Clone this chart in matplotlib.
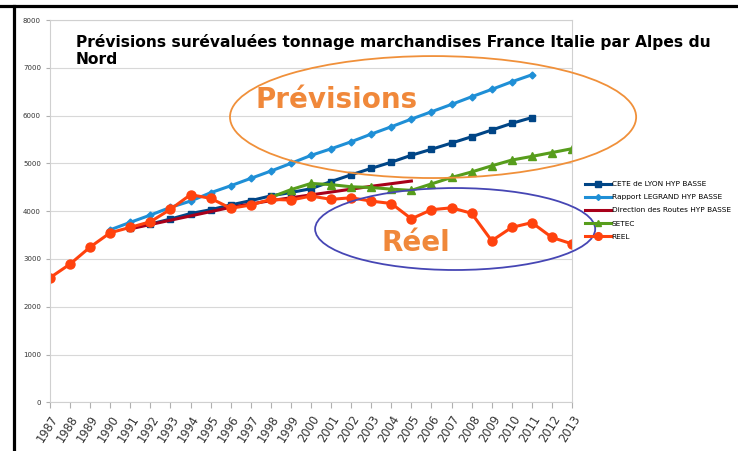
import matplotlib
matplotlib.use("Agg")
import matplotlib.pyplot as plt
from matplotlib.patches import Ellipse
from matplotlib.lines import Line2D

# données
cete_years = list(range(1991, 2012))
cete = [3650, 3730, 3835, 3950, 4030, 4130, 4220, 4320, 4390, 4470, 4620,
        4760, 4895, 5025, 5170, 5295, 5425, 5557, 5697, 5837, 5958]

legrand_years = list(range(1990, 2012))
legrand = [3610, 3766, 3918, 4079, 4211, 4385, 4531, 4686, 4839, 5000, 5167,
           5305, 5452, 5613, 5766, 5927, 6080, 6234, 6393, 6548, 6707, 6853]

routes_years = list(range(1991, 2006))
routes = [3630, 3720, 3810, 3900, 3990, 4080, 4150, 4220, 4280, 4340, 4400,
          4460, 4520, 4575, 4630]

setec_years = list(range(1998, 2014))
setec = [4290, 4450, 4580, 4555, 4510, 4495, 4460, 4435, 4570, 4705, 4820,
         4948, 5069, 5145, 5226, 5307]

reel_years = list(range(1987, 2014))
reel = [2607, 2893, 3249, 3548, 3661, 3778, 4038, 4345, 4268, 4060, 4128,
        4247, 4232, 4316, 4247, 4280, 4210, 4160, 3840, 4030, 4070, 3955,
        3380, 3660, 3760, 3450, 3315]

years = list(range(1987, 2014))

fig = plt.figure(figsize=(7.38, 4.51), dpi=100)
ax = fig.add_axes([50/738, 1-402.3/451, (572-50)/738, (402.3-20)/451])

ax.plot(cete_years, cete, marker='s', color='#004586', lw=2.2, ms=5, label='CETE de LYON HYP BASSE')
ax.plot(legrand_years, legrand, marker='D', color='#1f8fd6', lw=2.2, ms=3.5, label='Rapport LEGRAND HYP BASSE')
ax.plot(routes_years, routes, color='#a8001a', lw=2.2, label='Direction des Routes HYP BASSE')
ax.plot(setec_years, setec, marker='^', color='#579d1c', lw=2.2, ms=5.5, label='SETEC')
ax.plot(reel_years, reel, marker='o', color='#ff420e', lw=2.2, ms=6.5, label='REEL')

ax.set_xlim(1987, 2013)
ax.set_ylim(0, 8000)
ax.set_xticks(years)
ax.set_xticklabels([str(y) for y in years], rotation=58, ha='right',
                   rotation_mode='anchor', fontsize=8.3)
ax.set_yticks(range(0, 8001, 1000))
ax.tick_params(axis='y', labelsize=5, color='#b0b0b0', labelcolor='#333333', length=3)
ax.tick_params(axis='x', color='#b0b0b0', labelcolor='#333333', length=4)
ax.grid(axis='y', color='#d8d8d8', lw=0.8)
ax.set_axisbelow(True)
for s in ax.spines.values():
    s.set_color('#d0d0d0')
    s.set_linewidth(0.8)

ax.text(1988.3, 7360, 'Prévisions surévaluées tonnage marchandises France Italie par Alpes du\nNord',
        fontsize=11.2, fontweight='bold', va='center', ha='left', linespacing=1.15)

# ellipses et commentaires
ax.add_patch(Ellipse((2006.08, 5969), 20.23, 2552, fill=False, ec='#f0903a', lw=1.3, clip_on=False, zorder=5))
ax.add_patch(Ellipse((2007.18, 3626), 13.95, 1715, fill=False, ec='#4646b4', lw=1.3, clip_on=False, zorder=5))
ax.text(2001.25, 6330, 'Prévisions', color='#f0883a', fontsize=20, fontweight='bold',
        ha='center', va='center', zorder=6)
ax.text(2005.2, 3340, 'Réel', color='#f0883a', fontsize=20, fontweight='bold',
        ha='center', va='center', zorder=6)

ax.legend(loc='upper left', bbox_to_anchor=(585/738, 1-181/451), bbox_transform=fig.transFigure,
          frameon=False, fontsize=5.3, handlelength=3.5, handletextpad=0.1,
          labelspacing=0.95, borderaxespad=0, borderpad=0, markerscale=0.85)

# cadre noir de la capture
fig.add_artist(Line2D([0, 1], [1-5.5/451, 1-5.5/451], color='black', lw=2.3, transform=fig.transFigure))
fig.add_artist(Line2D([13.5/738, 13.5/738], [0, 1-5.5/451], color='black', lw=2.3, transform=fig.transFigure))

fig.savefig('out.png', dpi=100)
